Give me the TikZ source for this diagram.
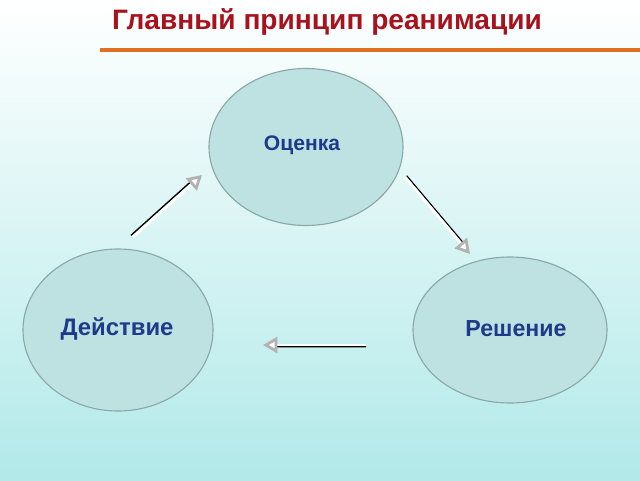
\documentclass[tikz,border=0pt]{standalone}
\usepackage{fontspec}
\setmainfont{Liberation Sans}
\usetikzlibrary{arrows.meta,shapes.geometric,calc}
\definecolor{titlered}{HTML}{A8121C}
\definecolor{barorange}{HTML}{E07020}
\definecolor{stepfill}{HTML}{BEE2E2}
\definecolor{stepline}{HTML}{8AA8A8}
\definecolor{labelblue}{HTML}{1F3A8A}
\definecolor{bgcyan}{HTML}{B2E9E9}
\begin{document}
\begin{tikzpicture}[x=0.25mm, y=-0.25mm,
    stage/.style={ellipse, draw=stepline, thick, fill=stepfill, inner sep=0pt},
    stagetext/.style={font=\fontsize{17}{20}\selectfont\bfseries, text=labelblue},
    shadowline/.style={line width=1pt, black},
    cyclearrow/.style={line width=2pt, white,
                       -{Triangle[open, length=3.6mm, width=4mm, fill=white, color=gray!60]}},
]

% Fond
\shade[top color=white, bottom color=bgcyan, middle color=bgcyan!50]
    (0,0) rectangle (640,480);
\useasboundingbox (0,0) rectangle (640,480);

% Titre
\node[font=\fontsize{20}{24}\selectfont\bfseries, text=titlered] (title) at (327,22)
    {Главный принцип реанимации};
\draw[barorange, line width=2.2pt] (100,50) -- (640,50);

% Etapes
\node[stage, minimum width=194*0.25mm, minimum height=157*0.25mm] (ocenka) at (306,147) {};
\node[stagetext, font=\fontsize{15}{18}\selectfont\bfseries] (ocenkaText) at (302,145) {Оценка};
\node[stage, minimum width=190*0.25mm, minimum height=162*0.25mm] (deistvie) at (118,330) {};
\node[stagetext] (deistvieText) at (117,329) {Действие};
\node[stage, minimum width=194*0.25mm, minimum height=146*0.25mm] (reshenie) at (510,330) {};
\node[stagetext, font=\fontsize{16.5}{20}\selectfont\bfseries] (reshenieText) at (516,329) {Решение};

% Fleches
\coordinate (a1s) at (133,237);
\coordinate (a1e) at (202,175);
\coordinate (a2s) at (405,177);
\coordinate (a2e) at (470,254);
\coordinate (a3s) at (366,345);
\coordinate (a3e) at (263,345);

\draw[shadowline] ([xshift=-0.5mm,yshift=0.4mm]a1s) -- ([xshift=-0.5mm,yshift=0.4mm]$(a1s)!0.88!(a1e)$);
\draw[shadowline] ([xshift=0.4mm,yshift=0.3mm]a2s) -- ([xshift=0.4mm,yshift=0.3mm]$(a2s)!0.88!(a2e)$);
\draw[shadowline] ([yshift=-0.4mm]a3s) -- ([yshift=-0.4mm]$(a3s)!0.9!(a3e)$);
\draw[cyclearrow] (a1s) -- (a1e);
\draw[cyclearrow] (a2s) -- (a2e);
\draw[cyclearrow] (a3s) -- (a3e);

\end{tikzpicture}
\end{document}
